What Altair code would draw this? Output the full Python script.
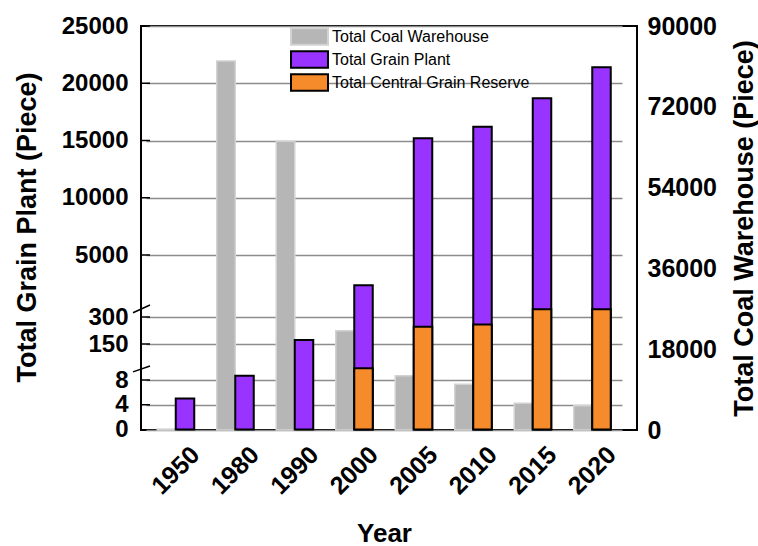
import altair as alt
import pandas as pd

years = ["1950", "1980", "1990", "2000", "2005", "2010", "2015", "2020"]
coal_warehouse = [200, 82200, 64300, 22100, 12100, 10200, 5950, 5400]
grain_plant = [5, 25, 172, 2700, 15200, 16200, 18700, 21400]
central_reserve = [0, 0, 0, 54, 246, 259, 884, 884]

series_names = ["Total Coal Warehouse", "Total Grain Plant", "Total Central Grain Reserve"]
series_fill = ["#b6b6b6", "#9933ff", "#f68b2c"]
series_stroke = ["#d2d2d2", "#000000", "#000000"]

left_ticks = [0, 4, 8, 150, 300, 5000, 10000, 15000, 20000, 25000]
left_domain = [0, 8, 150, 300, 5000, 25000]
left_range = [403.5, 354, 318, 291, 229, 0]
right_ticks = [0, 18000, 36000, 54000, 72000, 90000]
break_lo = [40, 626]
break_hi = [63, 1210]

FONT = "Liberation Sans"

coal_df = pd.DataFrame({"year": years, "value": coal_warehouse, "series": series_names[0]})
plant_df = pd.DataFrame({"year": years, "value": grain_plant, "series": series_names[1]})
reserve_df = pd.DataFrame({"year": years, "value": central_reserve, "series": series_names[2]})
reserve_df = reserve_df[reserve_df["value"] > 0]
ticks_df = pd.DataFrame({"tick": left_ticks[1:]})
breaks_df = pd.DataFrame({"lo": break_lo, "hi": break_hi})

xscale = alt.Scale(domain=years, range=[5, 481], paddingInner=0, paddingOuter=0)
xenc = alt.X("year:N", scale=xscale,
             axis=alt.Axis(title="Year", labelAngle=-45, labelAlign="center",
                           labelBaseline="middle", labelPadding=40, ticks=False,
                           tickSize=0, domain=False, labelFontSize=25, labelOverlap=False,
                           labelFontWeight="bold", labelFont=FONT, labelColor="black",
                           titleFontSize=26, titleFontWeight="bold", titleFont=FONT,
                           titleColor="black", titleY=111, titleBaseline="alphabetic"))

legend = alt.Legend(title=None, orient="none", legendX=158, legendY=0,
                    symbolType="M-2,-0.9L2,-0.9L2,0.9L-2,0.9Z", symbolSize=342,
                    symbolStrokeWidth=2, labelFontSize=16, labelFont=FONT,
                    labelColor="black", labelOffset=12, rowPadding=-5, padding=0,
                    labelLimit=0)
color = alt.Color("series:N", scale=alt.Scale(domain=series_names, range=series_fill), legend=legend)
stroke = alt.Stroke("series:N", scale=alt.Scale(domain=series_names, range=series_stroke), legend=legend)

lscale = alt.Scale(domain=left_domain, range=left_range, nice=False, zero=False)

left_axis = alt.Axis(values=left_ticks, orient="left", grid=True, gridColor="#8c8c8c",
                     gridWidth=1.5, ticks=False, tickSize=0, domain=False, format="d",
                     labelFontSize=24, labelFontWeight="bold", labelFont=FONT,
                     labelColor="black", labelPadding=13, labelFlush=False,
                     labelOverlap=False,
                     title="Total Grain Plant (Piece)", titleFontSize=27,
                     titleFontWeight="bold", titleFont=FONT, titleColor="black",
                     titleAngle=-90, titleX=-114, titleY=201, titleAlign="center",
                     titleBaseline="middle")

right_axis = alt.Axis(values=right_ticks, orient="right", grid=False, ticks=False,
                      tickSize=0, domain=False, format="d", labelFontSize=25,
                      labelFontWeight="bold", labelOverlap=False,
                      labelFont=FONT, labelColor="black", labelPadding=10, labelFlush=False,
                      title="Total Coal Warehouse (Piece)", titleFontSize=27,
                      titleFontWeight="bold", titleFont=FONT, titleColor="black",
                      titleAngle=-90, titleX=107, titleY=202, titleAlign="center",
                      titleBaseline="middle")

gray = alt.Chart(coal_df).mark_bar(size=18.5, xOffset=-9.25, strokeWidth=1.5).encode(
    x=xenc,
    y=alt.Y("value:Q", scale=alt.Scale(domain=[0, 90000], nice=False), axis=right_axis),
    color=color, stroke=stroke,
)

purple = alt.Chart(plant_df).mark_bar(size=18.5, xOffset=9.25, strokeWidth=2).encode(
    x=xenc,
    y=alt.Y("value:Q", scale=lscale, axis=left_axis),
    color=color, stroke=stroke,
)
orange = alt.Chart(reserve_df).mark_bar(size=18.5, xOffset=9.25, strokeWidth=2).encode(
    x=xenc,
    y=alt.Y("value:Q", scale=lscale, axis=left_axis),
    color=color, stroke=stroke,
)
tick_rules = alt.Chart(ticks_df).mark_rule(color="black", strokeWidth=1.5).encode(
    x=alt.value(0), x2=alt.value(9),
    y=alt.Y("tick:Q", scale=lscale, axis=left_axis),
)
break_rules = alt.Chart(breaks_df).mark_rule(color="black", strokeWidth=1.5, clip=False).encode(
    x=alt.value(-8), x2=alt.value(9),
    y=alt.Y("lo:Q", scale=lscale, axis=left_axis),
    y2="hi:Q",
)

left = alt.layer(purple, orange, tick_rules, break_rules)
chart = alt.layer(gray, left).resolve_scale(y="independent").properties(
    width=496, height=404,
    autosize=alt.AutoSizeParams(type="none"),
    padding={"left": 141, "top": 26, "right": 121, "bottom": 116},
    background="white",
).configure_view(stroke="black", strokeWidth=2)

chart.save("out.html", embed_options={"renderer": "svg", "actions": False})
